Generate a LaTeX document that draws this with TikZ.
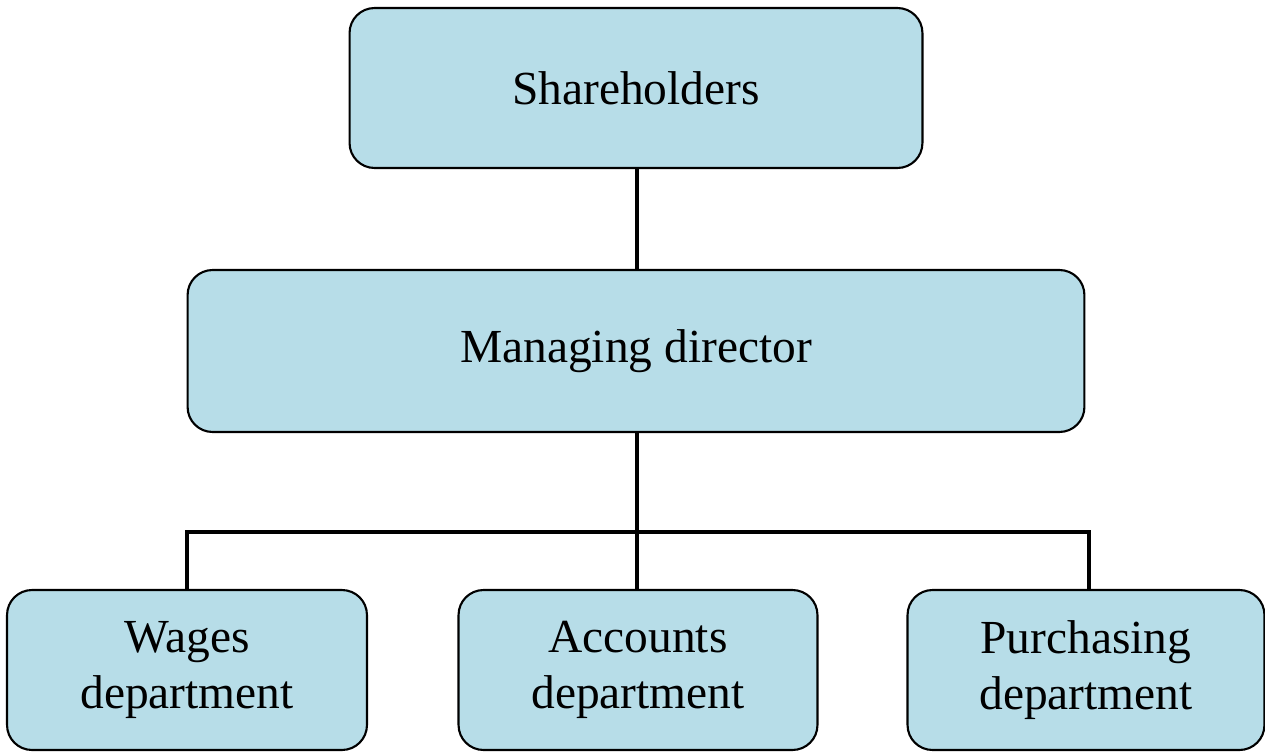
\documentclass[tikz,border=0pt]{standalone}
\usepackage{fontspec}
\setmainfont{Liberation Serif}
\usepackage{xcolor}
\usetikzlibrary{positioning}
\definecolor{boxblue}{HTML}{B7DDE8}

\begin{document}
\begin{tikzpicture}[x=0.02cm, y=-0.02cm, font=\fontsize{27}{31.5}\selectfont,
		unit/.style={draw, line width=1.2pt, fill=boxblue, rounded corners=0.5cm, align=center, inner sep=0pt},
		link/.style={line width=2.3pt}]
		\useasboundingbox (0,0) rectangle (1265,751);
		\node[unit, minimum width=11.46cm, minimum height=3.2cm] (share) at (636,88) {Shareholders};
		\node[unit, minimum width=17.94cm, minimum height=3.24cm] (md) at (636,351) {Managing director};
		\node[unit, minimum width=7.2cm, minimum height=3.2cm] (wages) at (187,670) {Wages\\department};
		\node[unit, minimum width=7.18cm, minimum height=3.2cm] (accounts) at (638,670) {Accounts\\department};
		\node[unit, minimum width=7.14cm, minimum height=3.2cm] (purchasing) at (1086,670) {Purchasing\\department};
		\coordinate (bus) at (637,532);
		\draw[link] (share.south -| bus) -- (md.north -| bus);
		\draw[link] (md.south -| bus) -- (accounts.north -| bus);
		\draw[link] (wages.north) |- (bus) -| (purchasing.north -| 1089,0);
	\end{tikzpicture}
\end{document}
